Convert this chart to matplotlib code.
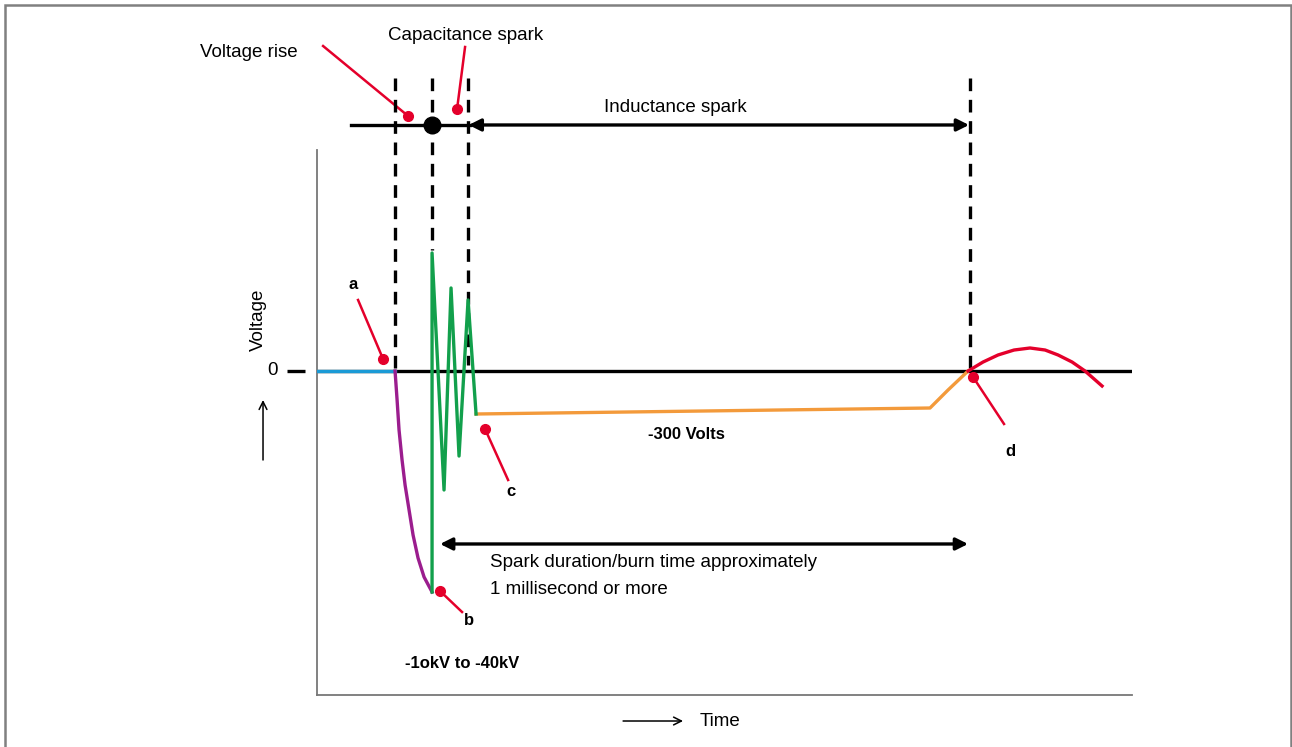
import matplotlib.pyplot as plt
from matplotlib.patches import Rectangle

plt.rcParams['font.family'] = ['Liberation Sans', 'DejaVu Sans']

# time (0-100 across the axes) and voltage (arbitrary units, 0 = reference)
rest_t = [0.0, 9.57]
rest_v = [0.0, 0.0]

rise_t = [9.57, 9.82, 10.06, 10.43, 10.80, 11.29, 11.78, 12.39, 13.13, 14.11]
rise_v = [0.0, -5.32, -10.83, -16.33, -20.92, -25.50, -30.09, -34.31, -37.80, -40.55]

cap_t = [14.11, 14.11, 15.58, 16.44, 17.42, 18.53, 19.51]
cap_v = [-40.55, 21.65, -21.83, 15.23, -15.60, 13.03, -7.89]

ind_t = [19.51, 75.21, 77.42, 79.88]
ind_v = [-7.89, -6.79, -3.49, 0.0]

end_t = [79.88, 81.72, 83.56, 85.52, 87.48, 89.33, 90.92, 92.64, 94.23, 96.32]
end_v = [0.0, 1.65, 2.94, 3.85, 4.22, 3.85, 2.94, 1.65, 0.0, -2.75]

# phase boundaries (dashed) and where each dashed line stops
bound_t = [9.57, 14.11, 18.53, 80.12]
bound_low = [0.0, 22.2, 1.1, 0.55]
bound_top = 53.76
line_v = 45.14

# callouts: label, label pos, line start, dot
callouts = [
    ('a', (4.42, 15.78), (5.03, 13.03), (8.10, 2.20)),
    ('b', (18.65, -45.69), (17.79, -44.22), (15.09, -40.37)),
    ('c', (23.80, -22.20), (23.44, -20.0), (20.61, -10.64)),
    ('d', (85.03, -14.86), (84.29, -9.72), (80.49, -1.10)),
]

RED = '#e4002b'
FS = 13.5
FSB = 12

fig = plt.figure(figsize=(12.92, 7.47), dpi=100)
ax = fig.add_axes([0.2454, 0.0696, 0.6308, 0.7296])
ax.set_xlim(0, 100)
ax.set_ylim(-59.45, 40.55)
ax.set_xticks([])
ax.set_yticks([])
for s in ['top', 'right']:
    ax.spines[s].set_visible(False)
for s in ['left', 'bottom']:
    ax.spines[s].set_color('#777777')
    ax.spines[s].set_linewidth(1.3)

# zero line + tick
ax.plot([0, 100], [0, 0], color='black', lw=2.4, zorder=2, solid_capstyle='butt')
ax.plot([-3.68, -1.47], [0, 0], color='black', lw=2.4, clip_on=False, solid_capstyle='butt')
ax.text(-5.52, 0, '0', ha='center', va='center', fontsize=FS)

# dashed boundaries (drawn top-down so every line starts with a dash)
for t, lo in zip(bound_t, bound_low):
    ax.plot([t, t], [bound_top, lo], color='black', lw=2.4, ls=(0, (3.8, 2.6)),
            clip_on=False, zorder=3)

# waveform
lw = 2.4
ax.plot(rest_t, rest_v, color='#1a9ad6', lw=lw, zorder=4)
ax.plot(rise_t, rise_v, color='#9b1d8e', lw=lw, zorder=4)
ax.plot(cap_t, cap_v, color='#12a04c', lw=lw, zorder=5)
ax.plot(ind_t, ind_v, color='#f39a3b', lw=lw, zorder=4)
ax.plot(end_t, end_v, color=RED, lw=lw, zorder=4)

# top timeline
ax.plot([4.17, 18.77], [line_v, line_v], color='black', lw=2.4, clip_on=False)
ax.annotate('', xy=(18.6, line_v), xytext=(80.0, line_v), annotation_clip=False,
            arrowprops=dict(arrowstyle='<|-|>', color='black', lw=2.4,
                            mutation_scale=18, shrinkA=0, shrinkB=0))
ax.plot([14.11], [line_v], 'o', color='black', ms=12, clip_on=False, zorder=6)

# red pointers at the top
ax.plot([0.74, 11.17], [59.63, 46.79], color=RED, lw=1.8, clip_on=False)
ax.plot([11.17], [46.79], 'o', color=RED, ms=7, clip_on=False)
ax.plot([18.16, 17.18], [59.45, 48.07], color=RED, lw=1.8, clip_on=False)
ax.plot([17.18], [48.07], 'o', color=RED, ms=7, clip_on=False)

ax.text(-8.34, 58.53, 'Voltage rise', ha='center', va='center', fontsize=FS)
ax.text(18.28, 61.65, 'Capacitance spark', ha='center', va='center', fontsize=FS)
ax.text(43.93, 48.26, 'Inductance spark', ha='center', va='center', fontsize=FS)

# callouts a-d
for lab, lpos, start, dot in callouts:
    ax.plot([start[0], dot[0]], [start[1], dot[1]], color=RED, lw=1.8, clip_on=False, zorder=7)
    ax.plot([dot[0]], [dot[1]], 'o', color=RED, ms=7, clip_on=False, zorder=7)
    ax.text(lpos[0], lpos[1], lab, ha='center', va='center', fontsize=FSB, fontweight='bold')

ax.text(45.28, -11.74, '-300 Volts', ha='center', va='center', fontsize=FSB, fontweight='bold')
ax.text(17.79, -53.58, '-1okV to -40kV', ha='center', va='center', fontsize=FSB, fontweight='bold')

# spark duration arrow
ax.annotate('', xy=(15.09, -31.74), xytext=(79.88, -31.74),
            arrowprops=dict(arrowstyle='<|-|>', color='black', lw=2.4,
                            mutation_scale=18, shrinkA=0, shrinkB=0))
ax.text(21.23, -35.05, 'Spark duration/burn time approximately', ha='left', va='center', fontsize=FS)
ax.text(21.23, -40.0, '1 millisecond or more', ha='left', va='center', fontsize=FS)

# axis labels
ax.text(-7.24, 9.36, 'Voltage', rotation=90, ha='center', va='center', fontsize=FS)
ax.annotate('', xy=(-6.63, -5.32), xytext=(-6.63, -16.33), annotation_clip=False,
            arrowprops=dict(arrowstyle='->', color='black', lw=1.1, shrinkA=0, shrinkB=0,
                            mutation_scale=14))
ax.annotate('', xy=(44.91, -64.22), xytext=(37.55, -64.22), annotation_clip=False,
            arrowprops=dict(arrowstyle='->', color='black', lw=1.1, shrinkA=0, shrinkB=0,
                            mutation_scale=14))
ax.text(46.99, -64.22, 'Time', ha='left', va='center', fontsize=FS)

# outer frame
fig.add_artist(Rectangle((0.0039, -0.02), 0.9953, 1.0133, transform=fig.transFigure,
                         fill=False, edgecolor='#808080', lw=1.8))

fig.savefig('out.png', dpi=100)
